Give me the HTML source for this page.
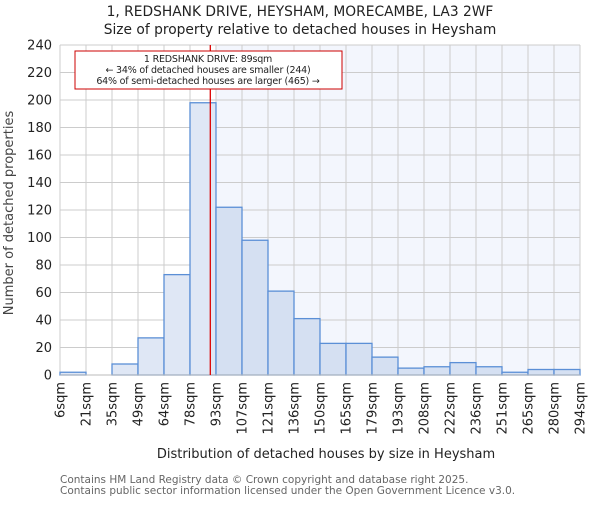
<!DOCTYPE html>
<html><head><meta charset="utf-8"><style>
body{margin:0;background:#fff;}
svg text{font-family:"DejaVu Sans","Liberation Sans",sans-serif;}
</style></head><body>
<svg width="600" height="500" viewBox="0 0 600 500" id="chart">
<text x="300" y="16" text-anchor="middle" font-size="13.8" fill="#222">1, REDSHANK DRIVE, HEYSHAM, MORECAMBE, LA3 2WF</text>
<text x="300" y="34" text-anchor="middle" font-size="13.8" fill="#222">Size of property relative to detached houses in Heysham</text>
<rect x="216.7" y="45" width="363.3" height="330" fill="#f3f6fd"/>
<g id="grid"></g>
<g id="bars"></g>
<g id="axes"></g>
<line x1="210.3" y1="45" x2="210.3" y2="375" stroke="#d00" stroke-width="1.3"/>
<rect x="75" y="51" width="267" height="38" fill="#fff" stroke="#c00" stroke-width="1"/>
<text x="208" y="62" text-anchor="middle" font-size="9.5" letter-spacing="-0.2" fill="#222">1 REDSHANK DRIVE: 89sqm</text>
<text x="208" y="73" text-anchor="middle" font-size="9.5" letter-spacing="-0.2" fill="#222">← 34% of detached houses are smaller (244)</text>
<text x="208" y="84" text-anchor="middle" font-size="9.5" letter-spacing="-0.2" fill="#222">64% of semi-detached houses are larger (465) →</text>
<text x="326" y="458" text-anchor="middle" font-size="13" fill="#222">Distribution of detached houses by size in Heysham</text>
<text transform="translate(13,213) rotate(-90)" text-anchor="middle" font-size="13" fill="#444">Number of detached properties</text>
<text x="60" y="483" font-size="10.5" fill="#666">Contains HM Land Registry data © Crown copyright and database right 2025.</text>
<text x="60" y="494" font-size="10.5" fill="#666">Contains public sector information licensed under the Open Government Licence v3.0.</text>
</svg>
<script>
const categories=["6sqm","21sqm","35sqm","49sqm","64sqm","78sqm","93sqm","107sqm","121sqm","136sqm","150sqm","165sqm","179sqm","193sqm","208sqm","222sqm","236sqm","251sqm","265sqm","280sqm","294sqm"];
const counts=[2,0,8,27,73,198,122,98,61,41,23,23,13,5,6,9,6,2,4,4];
const yTicks=[0,20,40,60,80,100,120,140,160,180,200,220,240];
const markerBin=5;
const NS="http://www.w3.org/2000/svg";
const x0=60,x1=580,yBase=375,yTop=45,yMax=240;
const bw=(x1-x0)/counts.length;
const xs=i=>x0+i*bw;
const ys=v=>yBase-(v/yMax)*(yBase-yTop);
function mk(t,a,p){const e=document.createElementNS(NS,t);for(const k in a)e.setAttribute(k,a[k]);p.appendChild(e);return e;}
const grid=document.getElementById('grid'),bars=document.getElementById('bars'),axes=document.getElementById('axes');
yTicks.forEach(v=>{
 const l=mk('line',{x1:x0,x2:x1,y1:ys(v),y2:ys(v),stroke:'#ccc','stroke-width':1},grid);
 
 
 const t=mk('text',{x:x0-8,y:ys(v)+4.5,'text-anchor':'end','font-size':13,fill:'#222'},axes);
 t.textContent=v;
 
 
});
categories.forEach((c,i)=>{
 const x=xs(i);
 const l=mk('line',{x1:x,x2:x,y1:yTop,y2:yBase,stroke:'#ccc','stroke-width':1},grid);
 
 
 const t=mk('text',{transform:`translate(${x+4.5},382) rotate(-90)`,'text-anchor':'end','font-size':13,fill:'#222'},axes);
 t.textContent=c;
 
 
});
counts.forEach((v,i)=>{
 const r=mk('rect',{x:xs(i),y:ys(v),width:bw,height:yBase-ys(v),fill:i<=markerBin?'#dfe7f5':'#d5e0f2',stroke:'#5b8fd6','stroke-width':1.3},bars);
 
 
});
const ax=mk('line',{x1:x0,x2:x1,y1:yBase,y2:yBase,stroke:'#bbb','stroke-width':1},axes);


</script>
</body></html>
